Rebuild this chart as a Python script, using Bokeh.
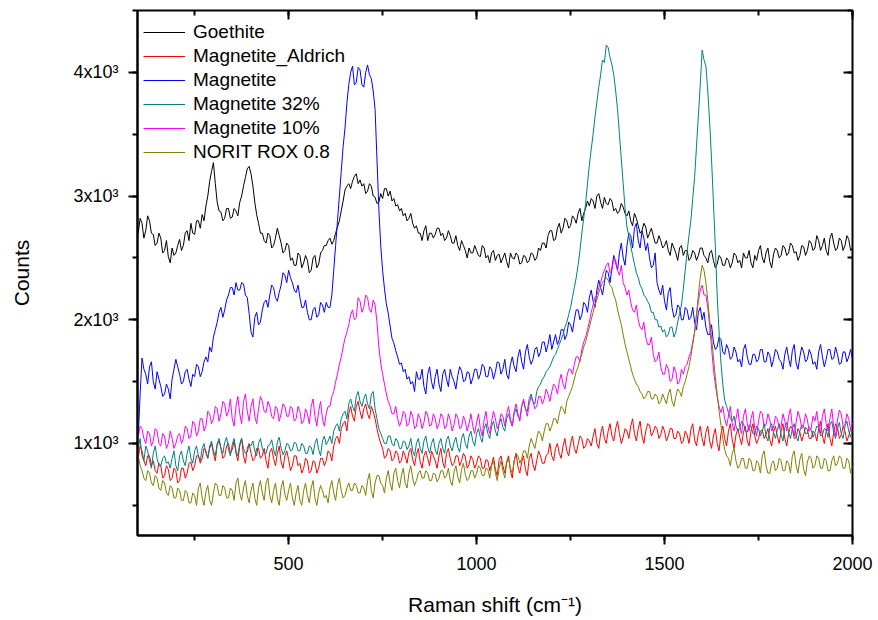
from bokeh.plotting import figure
from bokeh.models import (LinearAxis, SingleIntervalTicker, Range1d, Legend, LegendItem,
                          CustomJSTickFormatter)
from bokeh.embed import file_html
from bokeh.resources import INLINE

# Raman shift grid (cm^-1)
raman_shift = list(range(100, 2001, 5))

goethite = [
    2700, 2820, 2780, 2660, 2720, 2840, 2800, 2700, 2690, 2600, 2620, 2700, 2660, 2540, 2560, 2640, 2510, 2460, 2580, 2520,
    2540, 2600, 2650, 2560, 2600, 2700, 2720, 2640, 2780, 2700, 2690, 2800, 2800, 2740, 2850, 2800, 2920, 3000, 3120, 3200,
    3270, 3100, 2950, 2880, 2870, 2800, 2820, 2900, 2900, 2820, 2830, 2900, 2880, 2840, 2950, 3000, 3080, 3150, 3220, 3240,
    3180, 3080, 2950, 2850, 2780, 2700, 2700, 2640, 2620, 2700, 2680, 2580, 2600, 2660, 2740, 2680, 2620, 2540, 2560, 2620,
    2600, 2480, 2500, 2440, 2440, 2540, 2520, 2420, 2460, 2520, 2480, 2380, 2400, 2500, 2520, 2420, 2450, 2540, 2560, 2600,
    2600, 2640, 2660, 2610, 2640, 2700, 2750, 2800, 2880, 2960, 3050, 3080, 3100, 3060, 3120, 3160, 3180, 3100, 3130, 3080,
    3100, 3020, 3040, 3100, 3080, 3000, 2990, 2940, 2950, 3020, 2980, 3060, 3060, 3000, 3040, 2960, 2980, 2920, 2930, 2880,
    2900, 2840, 2860, 2800, 2820, 2860, 2780, 2740, 2760, 2700, 2700, 2640, 2720, 2760, 2640, 2700, 2700, 2660, 2690, 2740,
    2740, 2680, 2700, 2640, 2660, 2720, 2680, 2620, 2620, 2680, 2600, 2560, 2640, 2600, 2560, 2500, 2580, 2540, 2540, 2600,
    2560, 2520, 2510, 2600, 2580, 2500, 2520, 2460, 2540, 2560, 2480, 2520, 2530, 2460, 2500, 2540, 2470, 2420, 2540, 2500,
    2490, 2540, 2520, 2450, 2460, 2520, 2510, 2460, 2480, 2540, 2530, 2480, 2500, 2580, 2560, 2620, 2620, 2580, 2680, 2720,
    2720, 2640, 2650, 2740, 2780, 2700, 2740, 2820, 2800, 2740, 2760, 2840, 2820, 2780, 2860, 2900, 2800, 2860, 2900, 2960,
    2920, 2980, 2960, 2900, 3000, 3020, 2950, 2900, 2990, 2940, 2930, 2980, 2960, 2880, 2900, 2860, 2880, 2940, 2910, 2860,
    2840, 2880, 2800, 2760, 2860, 2820, 2760, 2700, 2720, 2780, 2750, 2660, 2700, 2740, 2680, 2620, 2620, 2680, 2640, 2580,
    2600, 2640, 2560, 2520, 2620, 2580, 2540, 2480, 2580, 2600, 2520, 2560, 2560, 2480, 2500, 2560, 2540, 2480, 2520, 2580,
    2580, 2520, 2500, 2460, 2540, 2560, 2480, 2420, 2450, 2520, 2500, 2440, 2440, 2500, 2480, 2420, 2460, 2540, 2520, 2460,
    2480, 2420, 2540, 2500, 2500, 2560, 2460, 2420, 2520, 2480, 2560, 2600, 2500, 2460, 2540, 2580, 2470, 2420, 2530, 2580,
    2560, 2500, 2520, 2600, 2580, 2520, 2540, 2620, 2600, 2540, 2550, 2480, 2520, 2600, 2590, 2520, 2560, 2640, 2620, 2560,
    2580, 2680, 2640, 2560, 2600, 2660, 2560, 2520, 2660, 2700, 2620, 2560, 2580, 2660, 2640, 2560, 2600, 2680, 2650, 2560,
    2580,
]

magnetite_aldrich = [
    880, 980, 940, 860, 820, 900, 900, 820, 860, 780, 760, 840, 820, 720, 740, 820, 790, 700, 720, 800,
    780, 680, 700, 800, 800, 720, 760, 840, 850, 780, 820, 900, 900, 840, 880, 960, 940, 880, 960, 1000,
    920, 860, 990, 1020, 960, 880, 900, 980, 1000, 920, 950, 1020, 920, 860, 980, 1040, 900, 840, 960, 1000,
    920, 860, 880, 960, 960, 880, 900, 960, 860, 800, 930, 960, 880, 820, 920, 980, 850, 800, 900, 940,
    870, 780, 820, 900, 900, 820, 840, 760, 800, 880, 860, 760, 780, 860, 850, 760, 800, 880, 880, 820,
    860, 940, 920, 860, 980, 1040, 1060, 1000, 1120, 1160, 1180, 1100, 1240, 1300, 1220, 1180, 1300, 1340, 1260, 1200,
    1280, 1320, 1240, 1200, 1300, 1260, 1200, 1120, 1050, 1000, 960, 880, 900, 960, 940, 860, 880, 940, 920, 840,
    860, 940, 900, 840, 930, 960, 870, 820, 910, 960, 850, 800, 900, 940, 880, 820, 940, 900, 860, 800,
    900, 960, 850, 800, 920, 960, 880, 820, 840, 900, 900, 820, 860, 920, 890, 800, 830, 900, 870, 800,
    840, 900, 880, 800, 800, 870, 860, 780, 830, 890, 790, 740, 870, 900, 820, 760, 850, 900, 780, 720,
    860, 920, 810, 760, 850, 900, 790, 740, 880, 920, 830, 780, 860, 940, 900, 840, 840, 900, 920, 1000,
    900, 860, 960, 1000, 920, 880, 980, 1040, 940, 900, 1000, 1060, 960, 920, 990, 1060, 1040, 960, 980, 1040,
    1020, 980, 1060, 1120, 1000, 960, 1080, 1140, 1040, 1000, 1100, 1160, 1060, 1020, 1120, 1180, 1080, 1000, 1050, 1120,
    1100, 1040, 1140, 1200, 1080, 1020, 1120, 1180, 1060, 1000, 1100, 1160, 1150, 1060, 1090, 1140, 1120, 1040, 1070, 1140,
    1100, 1020, 1060, 1120, 1120, 1040, 1040, 1100, 1080, 1000, 1020, 1100, 1070, 1000, 1110, 1160, 1030, 980, 1080, 1140,
    1040, 980, 1090, 1140, 1020, 960, 1060, 1120, 1000, 940, 1080, 1140, 1040, 980, 1100, 1160, 1030, 960, 1070, 1120,
    1050, 990, 1090, 1140, 1020, 980, 1100, 1160, 1060, 1000, 1040, 1100, 1110, 1040, 1070, 1120, 1030, 980, 1090, 1140,
    1060, 1000, 1100, 1160, 1040, 980, 1080, 1140, 1120, 1040, 1050, 1120, 1090, 1020, 1070, 1130, 1110, 1040, 1040, 1100,
    1080, 1020, 1120, 1180, 1060, 1000, 1100, 1160, 1040, 980, 1090, 1160, 1130, 1040, 1070, 1140, 1100, 1020, 1060, 1120,
    1090,
]

magnetite = [
    1050, 1400, 1690, 1600, 1560, 1480, 1620, 1660, 1500, 1440, 1580, 1520, 1460, 1380, 1400, 1480, 1440, 1360, 1520, 1600,
    1680, 1620, 1560, 1480, 1500, 1580, 1600, 1520, 1460, 1560, 1540, 1640, 1620, 1540, 1580, 1660, 1700, 1660, 1780, 1740,
    1860, 1920, 1980, 2060, 2100, 2020, 2080, 2160, 2200, 2260, 2260, 2200, 2300, 2240, 2240, 2300, 2290, 2200, 2180, 2050,
    1900, 1860, 2020, 2060, 1960, 1980, 2080, 2140, 2160, 2100, 2200, 2280, 2260, 2180, 2150, 2220, 2280, 2380, 2360, 2300,
    2400, 2340, 2300, 2240, 2220, 2280, 2180, 2100, 2100, 2160, 2060, 2000, 2000, 2080, 2100, 2020, 2040, 2140, 2120, 2060,
    2140, 2100, 2100, 2200, 2400, 2600, 2800, 3000, 3200, 3400, 3550, 3750, 3900, 4000, 4050, 3900, 3920, 4040, 4020, 3900,
    3880, 4000, 4060, 3980, 3950, 3850, 3700, 3300, 2900, 2600, 2400, 2250, 2130, 2050, 1950, 1850, 1810, 1750, 1700, 1640,
    1650, 1580, 1600, 1520, 1540, 1480, 1500, 1420, 1580, 1520, 1520, 1600, 1460, 1400, 1560, 1620, 1500, 1440, 1540, 1600,
    1480, 1420, 1560, 1600, 1520, 1460, 1600, 1540, 1500, 1440, 1550, 1620, 1590, 1500, 1510, 1580, 1570, 1480, 1530, 1600,
    1600, 1520, 1560, 1640, 1620, 1540, 1540, 1620, 1600, 1520, 1580, 1660, 1650, 1560, 1600, 1680, 1560, 1520, 1640, 1700,
    1620, 1580, 1700, 1760, 1660, 1600, 1740, 1800, 1700, 1640, 1680, 1760, 1780, 1700, 1740, 1820, 1820, 1740, 1800, 1880,
    1760, 1820, 1880, 1800, 1840, 1920, 1920, 1840, 1880, 1980, 1960, 1900, 2000, 2080, 2080, 2000, 2040, 2140, 2120, 2060,
    2180, 2240, 2150, 2100, 2240, 2320, 2260, 2200, 2300, 2400, 2380, 2300, 2420, 2520, 2460, 2400, 2540, 2620, 2500, 2440,
    2600, 2700, 2680, 2580, 2740, 2780, 2640, 2580, 2720, 2660, 2560, 2620, 2500, 2420, 2440, 2540, 2300, 2240, 2200, 2280,
    2150, 2080, 2220, 2260, 2100, 2020, 2040, 2120, 2100, 2000, 2000, 2100, 2080, 2000, 2020, 2100, 1980, 1920, 2060, 2100,
    2000, 2060, 1940, 1880, 1880, 1960, 1820, 1760, 1780, 1860, 1840, 1740, 1720, 1800, 1760, 1680, 1700, 1780, 1740, 1660,
    1680, 1620, 1760, 1800, 1700, 1640, 1640, 1720, 1720, 1660, 1680, 1760, 1760, 1660, 1660, 1740, 1710, 1620, 1680, 1760,
    1740, 1680, 1660, 1600, 1720, 1780, 1690, 1620, 1750, 1800, 1650, 1600, 1700, 1780, 1740, 1660, 1680, 1760, 1720, 1640,
    1660, 1600, 1740, 1800, 1700, 1620, 1680, 1760, 1760, 1680, 1690, 1780, 1720, 1640, 1650, 1740, 1740, 1660, 1700, 1760,
    1680,
]

magnetite_32 = [
    960, 1040, 900, 860, 980, 940, 860, 800, 920, 980, 880, 820, 820, 880, 900, 840, 850, 800, 880, 940,
    820, 780, 900, 940, 860, 820, 920, 980, 880, 840, 940, 980, 900, 860, 960, 1000, 920, 880, 980, 1020,
    940, 900, 1000, 1040, 960, 920, 1010, 1050, 950, 900, 990, 1040, 940, 900, 1000, 1040, 960, 920, 930, 990,
    980, 1020, 940, 900, 1000, 1040, 960, 920, 920, 980, 990, 1030, 950, 900, 1010, 1050, 960, 910, 940, 1000,
    990, 940, 950, 1010, 1000, 940, 940, 1000, 980, 920, 920, 980, 970, 910, 1000, 1040, 950, 900, 1020, 1060,
    990, 1020, 1060, 1000, 1100, 1140, 1160, 1100, 1200, 1240, 1260, 1200, 1320, 1360, 1300, 1260, 1380, 1420, 1340, 1300,
    1360, 1400, 1320, 1280, 1400, 1420, 1280, 1200, 1120, 1080, 1040, 1000, 1000, 1060, 1060, 1000, 980, 1040, 1020, 960,
    960, 1020, 1010, 950, 980, 1040, 940, 900, 1000, 1040, 960, 920, 1020, 1060, 970, 920, 1000, 1040, 950, 910,
    1000, 1040, 960, 920, 1030, 1060, 980, 940, 1010, 1050, 970, 930, 1040, 1080, 1000, 960, 1060, 1100, 1020, 980,
    1080, 1120, 1050, 1010, 1120, 1160, 1080, 1040, 1140, 1180, 1100, 1060, 1160, 1200, 1130, 1100, 1200, 1240, 1180, 1140,
    1240, 1280, 1220, 1200, 1300, 1340, 1280, 1260, 1360, 1400, 1340, 1320, 1420, 1460, 1480, 1520, 1540, 1580, 1600, 1620,
    1660, 1700, 1720, 1760, 1800, 1840, 1880, 1940, 1980, 2040, 2100, 2180, 2260, 2340, 2440, 2560, 2700, 2820, 2940, 3100,
    3250, 3380, 3500, 3640, 3760, 3880, 3980, 4100, 4080, 4220, 4200, 4120, 4060, 3980, 3850, 3700, 3500, 3300, 3100, 2900,
    2750, 2680, 2600, 2520, 2450, 2380, 2340, 2280, 2250, 2200, 2180, 2150, 2120, 2060, 2060, 2000, 2000, 1940, 1950, 1900,
    1920, 1860, 1880, 1940, 1940, 1860, 1900, 1980, 2050, 2120, 2250, 2400, 2550, 2680, 2800, 2980, 3150, 3400, 3650, 3900,
    4180, 4100, 4050, 3850, 3600, 3300, 2950, 2600, 2200, 1900, 1650, 1480, 1350, 1300, 1250, 1200, 1180, 1220, 1140, 1100,
    1120, 1180, 1160, 1100, 1090, 1150, 1140, 1080, 1080, 1140, 1120, 1060, 1100, 1160, 1060, 1020, 1130, 1160, 1090, 1040,
    1110, 1160, 1070, 1020, 1130, 1170, 1090, 1040, 1120, 1160, 1060, 1020, 1100, 1150, 1140, 1080, 1080, 1130, 1110, 1050,
    1090, 1140, 1130, 1060, 1070, 1120, 1110, 1050, 1150, 1180, 1090, 1040, 1120, 1170, 1080, 1040, 1140, 1180, 1100, 1050,
    1120,
]

magnetite_10 = [
    1050, 1140, 1120, 1040, 1000, 1100, 1080, 980, 1020, 1120, 1100, 1000, 980, 1080, 1060, 960, 1000, 1100, 1040, 960,
    1000, 1060, 1080, 1000, 1040, 1140, 1120, 1040, 1060, 1180, 1160, 1060, 1100, 1200, 1200, 1100, 1140, 1260, 1240, 1160,
    1200, 1300, 1280, 1180, 1240, 1340, 1320, 1220, 1260, 1360, 1200, 1140, 1300, 1380, 1240, 1160, 1340, 1400, 1260, 1180,
    1300, 1360, 1220, 1160, 1280, 1380, 1340, 1260, 1250, 1340, 1300, 1220, 1200, 1300, 1280, 1180, 1240, 1320, 1300, 1220,
    1220, 1300, 1280, 1180, 1200, 1300, 1260, 1160, 1180, 1280, 1240, 1160, 1300, 1360, 1220, 1140, 1260, 1340, 1200, 1140,
    1240, 1300, 1300, 1380, 1420, 1500, 1560, 1640, 1700, 1780, 1850, 1900, 1960, 2040, 2080, 2000, 2020, 2180, 2150, 2060,
    2100, 2200, 2180, 2080, 2060, 2160, 2120, 1980, 1780, 1650, 1560, 1480, 1400, 1340, 1300, 1240, 1240, 1300, 1200, 1140,
    1180, 1260, 1240, 1140, 1160, 1260, 1220, 1120, 1140, 1240, 1200, 1120, 1170, 1260, 1230, 1140, 1150, 1240, 1200, 1120,
    1160, 1240, 1220, 1120, 1140, 1240, 1190, 1100, 1150, 1240, 1210, 1120, 1130, 1220, 1180, 1100, 1160, 1240, 1140, 1080,
    1170, 1240, 1120, 1060, 1190, 1260, 1140, 1080, 1180, 1260, 1200, 1120, 1160, 1240, 1220, 1140, 1240, 1300, 1200, 1140,
    1260, 1320, 1240, 1180, 1300, 1360, 1280, 1220, 1320, 1380, 1340, 1280, 1300, 1380, 1380, 1320, 1360, 1440, 1400, 1340,
    1420, 1480, 1460, 1400, 1500, 1560, 1480, 1440, 1540, 1600, 1600, 1560, 1640, 1700, 1700, 1660, 1760, 1820, 1860, 1920,
    1980, 2060, 2120, 2180, 2200, 2260, 2300, 2360, 2400, 2440, 2460, 2380, 2400, 2500, 2480, 2400, 2360, 2440, 2300, 2260,
    2200, 2240, 2140, 2080, 2060, 2120, 2000, 1940, 1920, 1980, 1860, 1800, 1800, 1860, 1720, 1660, 1680, 1740, 1620, 1560,
    1560, 1640, 1600, 1500, 1520, 1620, 1580, 1480, 1500, 1600, 1560, 1620, 1640, 1700, 1740, 1820, 1900, 2040, 2150, 2240,
    2280, 2200, 2200, 2100, 1950, 1780, 1600, 1480, 1380, 1300, 1250, 1300, 1200, 1140, 1220, 1300, 1160, 1100, 1200, 1280,
    1140, 1080, 1220, 1280, 1160, 1100, 1200, 1260, 1120, 1060, 1180, 1260, 1240, 1140, 1150, 1240, 1190, 1100, 1130, 1220,
    1200, 1120, 1140, 1240, 1180, 1100, 1220, 1280, 1130, 1060, 1170, 1260, 1210, 1120, 1150, 1240, 1190, 1100, 1120, 1220,
    1180, 1260, 1140, 1080, 1220, 1280, 1160, 1100, 1200, 1280, 1130, 1060, 1190, 1270, 1240, 1140, 1150, 1240, 1200, 1110,
    1170,
]

norit_rox = [
    900, 820, 780, 720, 700, 780, 760, 680, 660, 740, 720, 640, 620, 700, 680, 600, 580, 660, 640, 560,
    560, 640, 620, 540, 540, 620, 600, 520, 520, 600, 580, 500, 640, 680, 560, 500, 610, 660, 540, 500,
    600, 680, 660, 580, 580, 660, 640, 560, 560, 640, 620, 540, 680, 720, 600, 540, 640, 700, 580, 520,
    620, 680, 560, 500, 640, 700, 600, 540, 680, 720, 580, 520, 620, 680, 560, 500, 640, 700, 590, 540,
    620, 680, 560, 500, 600, 660, 540, 500, 620, 680, 580, 520, 640, 700, 560, 500, 600, 660, 620, 560,
    580, 520, 640, 700, 600, 540, 660, 720, 620, 560, 580, 640, 680, 620, 620, 680, 660, 600, 600, 660,
    640, 580, 700, 760, 620, 560, 680, 740, 740, 680, 660, 600, 720, 780, 680, 620, 760, 800, 700, 640,
    740, 800, 680, 640, 760, 820, 720, 660, 700, 760, 780, 720, 720, 780, 760, 700, 700, 760, 750, 690,
    720, 780, 780, 720, 740, 800, 700, 660, 770, 820, 730, 680, 790, 840, 750, 700, 720, 780, 780, 720,
    760, 820, 800, 740, 740, 800, 790, 720, 820, 860, 760, 700, 800, 860, 780, 720, 840, 880, 800, 760,
    860, 920, 900, 840, 880, 940, 940, 880, 980, 1040, 1000, 960, 1040, 1100, 1080, 1020, 1100, 1160, 1160, 1100,
    1140, 1200, 1200, 1160, 1240, 1300, 1280, 1240, 1340, 1380, 1420, 1460, 1520, 1580, 1620, 1680, 1720, 1780, 1820, 1880,
    1940, 2000, 2060, 2120, 2160, 2220, 2260, 2300, 2320, 2340, 2320, 2280, 2260, 2200, 2160, 2080, 2020, 1960, 1880, 1800,
    1740, 1680, 1620, 1560, 1520, 1480, 1460, 1420, 1400, 1360, 1380, 1420, 1420, 1360, 1360, 1400, 1380, 1320, 1340, 1400,
    1360, 1320, 1400, 1440, 1340, 1300, 1380, 1440, 1420, 1380, 1460, 1500, 1560, 1620, 1700, 1800, 1900, 2040, 2200, 2340,
    2440, 2400, 2300, 2160, 2000, 1860, 1700, 1540, 1400, 1260, 1150, 1040, 950, 900, 880, 820, 920, 960, 860, 800,
    820, 880, 880, 800, 800, 880, 860, 780, 780, 860, 840, 760, 900, 940, 820, 760, 760, 840, 860, 780,
    800, 880, 860, 780, 780, 860, 840, 760, 900, 940, 820, 760, 870, 920, 790, 740, 850, 900, 880, 800,
    820, 900, 880, 800, 800, 880, 860, 780, 780, 860, 900, 820, 840, 900, 880, 800, 800, 880, 860, 760,
    820,
]

series_names = ["Goethite", "Magnetite_Aldrich", "Magnetite", "Magnetite 32%",
                "Magnetite 10%", "NORIT ROX 0.8"]
series_values = [goethite, magnetite_aldrich, magnetite, magnetite_32, magnetite_10, norit_rox]
series_colors = ["#000000", "#FF0000", "#0000FF", "#008080", "#FF00FF", "#808000"]

y_tick_labels = {1000: "1x10\u00b3", 2000: "2x10\u00b3", 3000: "3x10\u00b3", 4000: "4x10\u00b3"}

FONT = "Liberation Sans"

p = figure(width=878, height=620, output_backend="svg", toolbar_location=None,
           x_range=Range1d(98, 2000), y_range=Range1d(256, 4500),
           x_axis_label="Raman shift (cm\u207b\u00b9)", y_axis_label="Counts",
           min_border_left=137, min_border_right=26, min_border_top=10, min_border_bottom=85)
p.grid.visible = False
p.background_fill_color = "white"
p.border_fill_color = "white"
p.outline_line_color = "black"
p.outline_line_width = 2

items = []
for name, vals, col in zip(series_names, series_values, series_colors):
    r = p.line(raman_shift[:len(vals)], vals, line_color=col, line_width=1)
    items.append(LegendItem(label=name, renderers=[r]))

xa = p.xaxis[0]
xa.ticker = SingleIntervalTicker(interval=500, num_minor_ticks=2)
ya = p.yaxis[0]
ya.ticker = SingleIntervalTicker(interval=1000, num_minor_ticks=2)
ya.major_label_overrides = y_tick_labels

for ax in (xa, ya):
    ax.axis_line_width = 2
    ax.major_tick_line_width = 2
    ax.minor_tick_line_width = 2
    ax.major_tick_out = 9
    ax.major_tick_in = 0
    ax.minor_tick_out = 5
    ax.minor_tick_in = 0
    ax.major_label_text_font = FONT
    ax.major_label_text_font_size = "18px"
    ax.major_label_text_color = "black"
    ax.axis_label_text_font = FONT
    ax.axis_label_text_font_size = "21px"
    ax.axis_label_text_font_style = "normal"
    ax.axis_label_text_color = "black"

xa.major_label_standoff = 12
xa.axis_label_standoff = 20
ya.major_label_standoff = 10
ya.axis_label_standoff = 37
ya.major_label_orientation = "horizontal"

# mirrored axes with inward ticks, no labels
blank = CustomJSTickFormatter(code="return ''")
top = LinearAxis(ticker=SingleIntervalTicker(interval=500, num_minor_ticks=2), formatter=blank)
right = LinearAxis(ticker=SingleIntervalTicker(interval=1000, num_minor_ticks=2), formatter=blank)
for ax in (top, right):
    ax.axis_line_color = None
    ax.major_tick_line_width = 2
    ax.minor_tick_line_width = 2
    ax.major_tick_in = 9
    ax.major_tick_out = 0
    ax.minor_tick_in = 5
    ax.minor_tick_out = 0
    ax.major_label_standoff = 0
p.add_layout(top, "above")
p.add_layout(right, "right")

legend = Legend(items=items, location=(6, 372))
legend.background_fill_alpha = 0
legend.border_line_color = None
legend.label_text_font = FONT
legend.label_text_font_size = "19px"
legend.label_text_color = "black"
legend.glyph_width = 42
legend.glyph_height = 22
legend.label_height = 22
legend.spacing = 2
legend.label_standoff = 8
legend.margin = 0
legend.padding = 7
p.add_layout(legend)

open("out.html", "w").write(file_html(p, INLINE))
